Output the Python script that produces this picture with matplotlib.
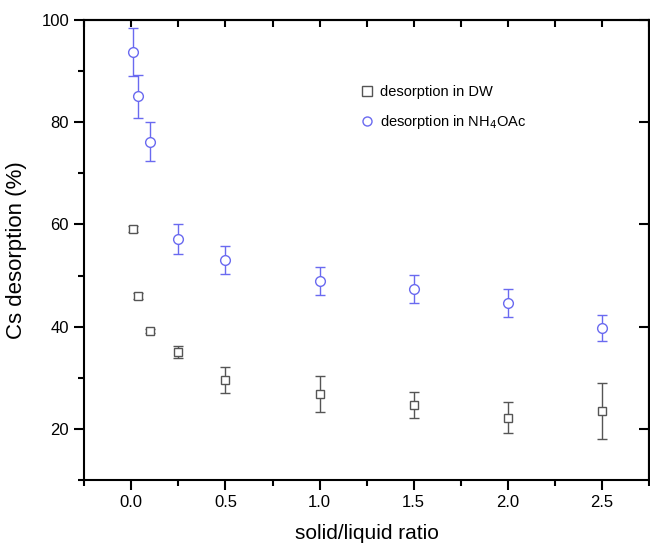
import matplotlib
matplotlib.use("Agg")
import matplotlib.pyplot as plt
from matplotlib.ticker import MultipleLocator, NullFormatter
from matplotlib.lines import Line2D

plt.rcParams['font.family'] = ['Liberation Sans', 'DejaVu Sans']

# Data
ratio = [0.01, 0.035, 0.10, 0.25, 0.5, 1.0, 1.5, 2.0, 2.5]
dw_values = [59.1, 46.0, 39.2, 35.0, 29.6, 26.8, 24.7, 22.2, 23.5]
dw_errors = [0.5, 0.5, 0.4, 1.2, 2.5, 3.5, 2.6, 3.1, 5.5]
nh_values = [93.8, 85.1, 76.2, 57.2, 53.0, 48.9, 47.4, 44.6, 39.75]
nh_errors = [4.7, 4.2, 3.8, 2.9, 2.7, 2.8, 2.8, 2.75, 2.5]
x_ticks = [0.0, 0.5, 1.0, 1.5, 2.0, 2.5]
y_ticks = [20, 40, 60, 80, 100]

gray = '#555555'
blue = '#6a6af0'

fig = plt.figure(figsize=(6.5, 5.47), dpi=100)
ax = fig.add_axes([0.1297, 0.1225, 0.8688, 0.8409])

ax.errorbar(ratio, dw_values, yerr=dw_errors, fmt='s', ms=6, mfc='white',
            mec=gray, mew=1.0, ecolor=gray, elinewidth=1.0, capsize=3.5,
            capthick=1.0, zorder=3)
ax.errorbar(ratio, nh_values, yerr=nh_errors, fmt='o', ms=7, mfc='white',
            mec=blue, mew=1.0, ecolor=blue, elinewidth=1.0, capsize=3.5,
            capthick=1.0, zorder=3)

ax.set_xlim(-0.25, 2.75)
ax.set_ylim(10, 100)
ax.set_xticks(x_ticks)
ax.set_xticklabels([f"{v:.1f}" for v in x_ticks])
ax.set_yticks(y_ticks)
ax.xaxis.set_minor_locator(MultipleLocator(0.25))
ax.yaxis.set_minor_locator(MultipleLocator(10))

for s in ax.spines.values():
    s.set_linewidth(1.5)
    s.set_color('black')

ax.tick_params(which='major', direction='out', length=7, width=1.5,
               labelsize=12, pad=4)
ax.tick_params(which='minor', direction='out', length=4, width=1.5)
ax.tick_params(top=False, right=False, which='both')

# top / right ticks inward
secx = ax.secondary_xaxis('top')
secx.set_xticks(x_ticks)
secx.xaxis.set_minor_locator(MultipleLocator(0.25))
secx.tick_params(which='both', direction='in', length=5, width=1.5,
                 labeltop=False)
secx.xaxis.set_major_formatter(NullFormatter())
secx.spines['top'].set_linewidth(1.5)

secy = ax.secondary_yaxis('right')
secy.set_yticks(y_ticks)
secy.yaxis.set_minor_locator(MultipleLocator(10))
secy.tick_params(which='major', direction='in', length=7, width=1.5,
                 labelright=False)
secy.tick_params(which='minor', direction='out', length=4, width=1.5)
secy.yaxis.set_major_formatter(NullFormatter())
secy.spines['right'].set_linewidth(1.5)

ax.set_xlabel('solid/liquid ratio', fontsize=15, labelpad=10)
ax.set_ylabel('Cs desorption (%)', fontsize=16, labelpad=10)

handles = [
    Line2D([], [], marker='s', ls='none', ms=6.5, mfc='white', mec=gray, mew=1.0),
    Line2D([], [], marker='o', ls='none', ms=6.5, mfc='white', mec=blue, mew=1.0),
]
labels = ['desorption in DW', 'desorption in NH$_4$OAc']
ax.legend(handles, labels, loc='upper left', bbox_to_anchor=(0.478, 0.872),
          frameon=False, fontsize=10.5, handletextpad=0.35, labelspacing=1.0,
          handlelength=1.0, borderaxespad=0)

fig.savefig('out.png', dpi=100)
